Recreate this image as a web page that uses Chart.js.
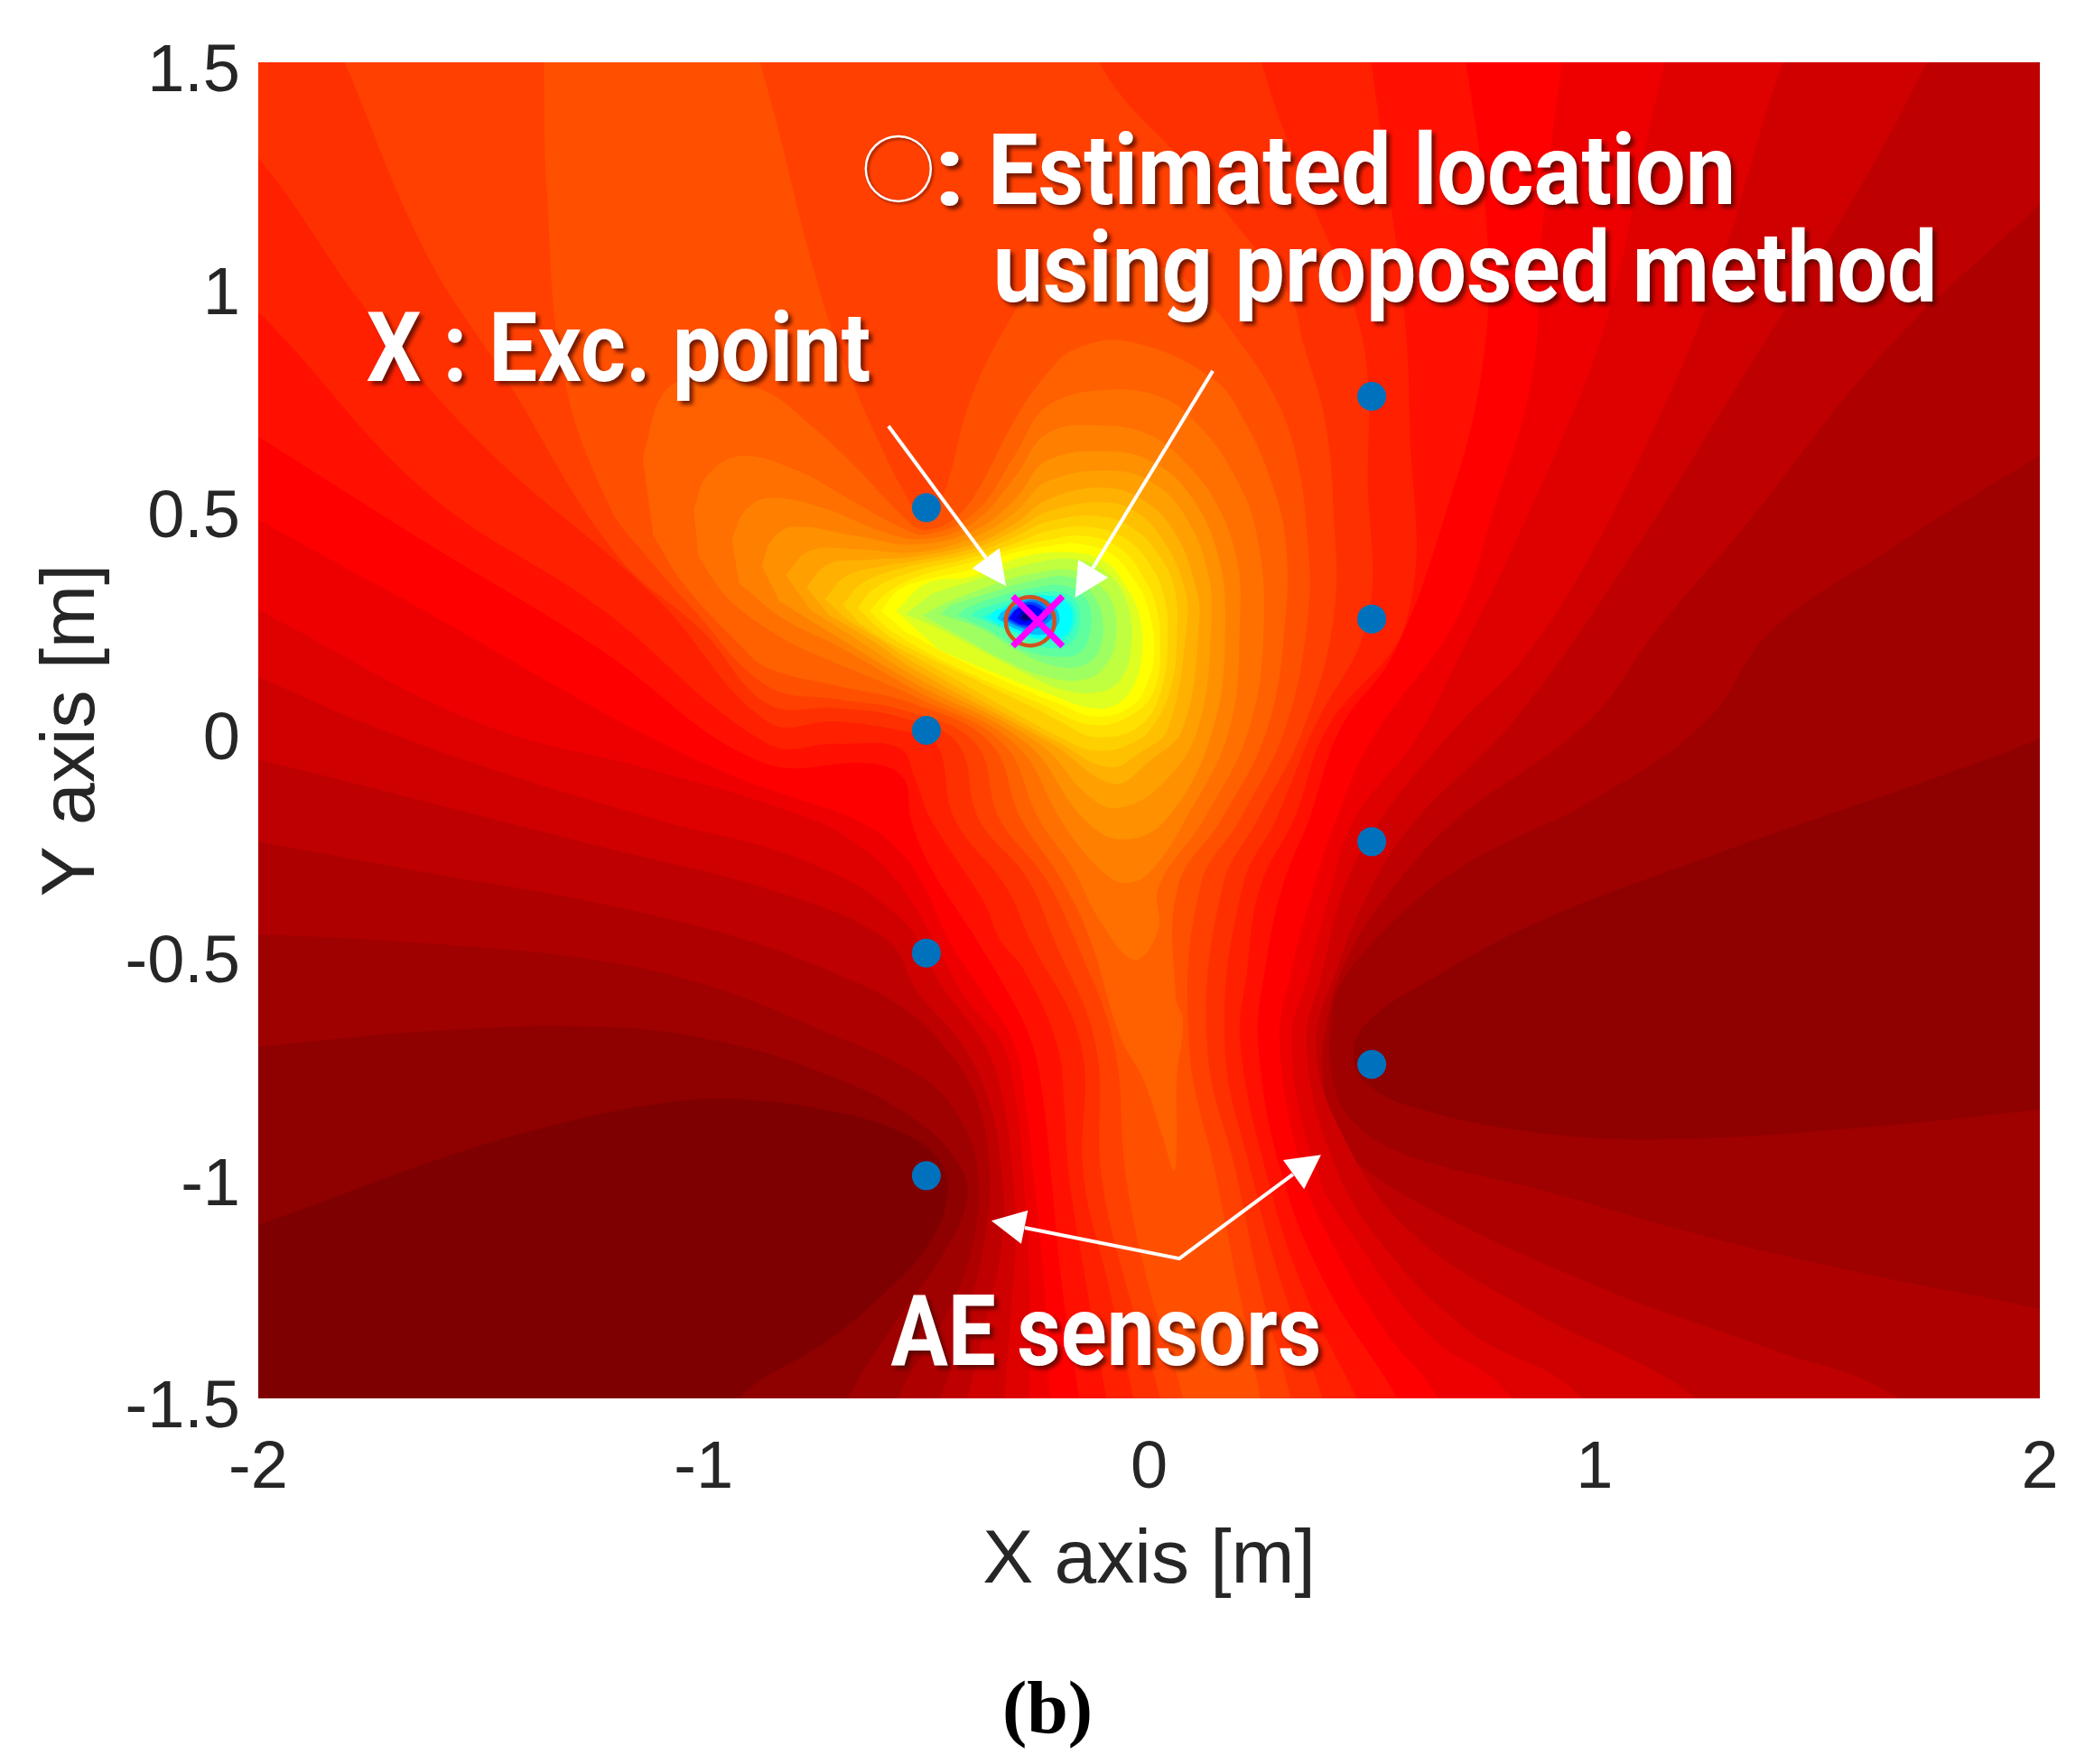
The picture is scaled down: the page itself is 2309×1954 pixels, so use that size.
<!DOCTYPE html>
<html><head><meta charset="utf-8">
<style>html,body{margin:0;padding:0;background:#fff}canvas{display:block}</style>
<script src="https://cdn.jsdelivr.net/npm/chart.js@4"></script>
</head><body><canvas id="c" width="2309" height="1954"></canvas>
<script>
const xTicks=[-2,-1,0,1,2];
const yTicks=[-1.5,-1,-0.5,0,0.5,1,1.5];
const sensorX=[-0.5,-0.5,-0.5,-0.5,0.5,0.5,0.5,0.5];
const sensorY=[0.5,0,-0.5,-1,0.75,0.25,-0.25,-0.75];
const excitationPoint=[[-0.25,0.245]];
const estimatedPoint=[[-0.267,0.245]];
const legendCircle=[[-0.563,1.261]];
const arrowLine1=[[-0.585,0.683],[-0.366,0.387]];
const arrowHead1=[[-0.321,0.324],[-0.397,0.364],[-0.336,0.409]];
const arrowLine2=[[0.143,0.807],[-0.127,0.363]];
const arrowHead2=[[-0.166,0.298],[-0.159,0.383],[-0.092,0.343]];
const arrowLine3=[[-0.279,-1.117],[0.068,-1.186],[0.323,-0.997]];
const arrowHead3=[[-0.354,-1.101],[-0.272,-1.078],[-0.287,-1.153]];
const arrowHead4=[[0.386,-0.953],[0.301,-0.965],[0.348,-1.03]];

const band00=[[-2.3,1.8],[2.3,1.8],[2.3,-1.8],[-2.3,-1.8]];
const band01=[[-2.3,1.8],[2.3,1.8],[2.3,-1.8],[-1.15,-1.8],[-0.92,-1.5],[-0.719,-1.369],[-0.59,-1.26],[-0.5,-1.161],[-0.454,-1.052],[-0.473,-0.963],[-0.564,-0.899],[-0.719,-0.854],[-0.913,-0.829],[-1.107,-0.839],[-1.366,-0.894],[-1.624,-0.973],[-2,-1.11],[-2.3,-1.2]];
const band02=[[-2.3,1.8],[2.3,1.8],[2.3,0.12],[2,-0.02],[1.268,-0.28],[0.879,-0.428],[0.621,-0.566],[0.491,-0.655],[0.459,-0.726],[0.491,-0.795],[0.621,-0.854],[0.879,-0.904],[1.138,-0.918],[1.527,-0.898],[2,-0.851],[2.3,-0.81],[2.3,-1.8],[-0.8,-1.8],[-0.676,-1.5],[-0.564,-1.32],[-0.46,-1.171],[-0.409,-1.052],[-0.428,-0.973],[-0.525,-0.874],[-0.719,-0.775],[-0.978,-0.696],[-1.236,-0.666],[-1.624,-0.676],[-2,-0.71],[-2.3,-0.73]];
const band03=[[-2.3,1.8],[2.3,1.8],[2.3,0.8],[2,0.618],[1.655,0.401],[1.398,0.225],[1.248,0.018],[1.008,-0.15],[0.699,-0.308],[0.53,-0.448],[0.427,-0.576],[0.41,-0.65],[0.41,-0.77],[0.45,-0.87],[0.57,-0.95],[0.879,-1.032],[1.268,-1.141],[1.655,-1.23],[2,-1.3],[2.3,-1.38],[2.3,-1.8],[-0.65,-1.8],[-0.563,-1.5],[-0.46,-1.32],[-0.4,-1.17],[-0.384,-1],[-0.42,-0.88],[-0.51,-0.78],[-0.719,-0.68],[-0.978,-0.577],[-1.236,-0.517],[-1.624,-0.478],[-2,-0.458],[-2.3,-0.45]];
const band04=[[-2.3,1.8],[2.3,1.8],[2.3,1.48],[2,1.182],[1.656,0.856],[1.333,0.453],[1.139,0.225],[0.984,0.018],[0.69,-0.2],[0.55,-0.35],[0.45,-0.5],[0.4,-0.65],[0.39,-0.78],[0.41,-0.9],[0.453,-0.96],[0.621,-1.07],[1.009,-1.25],[1.397,-1.39],[1.682,-1.5],[2,-1.8],[-0.6,-1.8],[-0.469,-1.5],[-0.4,-1.28],[-0.37,-1.15],[-0.357,-1],[-0.39,-0.82],[-0.464,-0.705],[-0.552,-0.623],[-0.654,-0.567],[-0.913,-0.468],[-1.236,-0.388],[-1.624,-0.319],[-2,-0.25],[-2.3,-0.2]];
const band05=[[-2.3,1.8],[1.9,1.8],[1.747,1.5],[1.59,1.208],[1.32,0.773],[1.074,0.38],[0.816,0.018],[0.6,-0.2],[0.5,-0.35],[0.42,-0.54],[0.375,-0.705],[0.43,-0.9],[0.58,-1.12],[0.85,-1.3],[1.229,-1.5],[1.5,-1.8],[-0.5,-1.8],[-0.408,-1.5],[-0.36,-1.3],[-0.33,-1.15],[-0.33,-1],[-0.36,-0.83],[-0.42,-0.705],[-0.518,-0.59],[-0.59,-0.47],[-0.848,-0.359],[-1.236,-0.26],[-1.624,-0.16],[-2,-0.066],[-2.3,0]];
const band06=[[-2.3,1.8],[1.55,1.8],[1.423,1.5],[1.268,1],[1.139,0.69],[0.984,0.38],[0.84,0.16],[0.7,0.018],[0.52,-0.2],[0.44,-0.35],[0.39,-0.54],[0.354,-0.705],[0.407,-0.95],[0.52,-1.15],[0.72,-1.35],[0.971,-1.5],[1.1,-1.8],[-0.35,-1.8],[-0.325,-1.5],[-0.31,-1.3],[-0.3,-1.15],[-0.306,-1],[-0.33,-0.82],[-0.37,-0.705],[-0.464,-0.576],[-0.56,-0.42],[-0.784,-0.289],[-1.107,-0.2],[-1.495,-0.081],[-1.766,0.018],[-2,0.12],[-2.3,0.25]];
const band07=[[-2.3,1.8],[1.25,1.8],[1.158,1.5],[1.048,1],[0.984,0.794],[0.803,0.38],[0.7,0.174],[0.6,-0.02],[0.46,-0.2],[0.41,-0.35],[0.36,-0.54],[0.32,-0.705],[0.38,-1],[0.47,-1.15],[0.62,-1.35],[0.815,-1.5],[0.95,-1.8],[-0.27,-1.8],[-0.269,-1.5],[-0.27,-1.2],[-0.282,-1],[-0.3,-0.82],[-0.329,-0.705],[-0.41,-0.603],[-0.55,-0.36],[-0.65,-0.26],[-0.784,-0.19],[-1.107,-0.091],[-1.508,0.018],[-2,0.27],[-2.3,0.42]];
const band08=[[-2.3,1.8],[0.97,1.8],[0.926,1.5],[0.88,1.1],[0.86,0.794],[0.77,0.484],[0.69,0.25],[0.5,-0.02],[0.42,-0.2],[0.37,-0.35],[0.32,-0.54],[0.293,-0.705],[0.346,-1],[0.41,-1.15],[0.53,-1.35],[0.647,-1.5],[0.75,-1.8],[-0.2,-1.8],[-0.222,-1.5],[-0.235,-1.25],[-0.259,-1],[-0.275,-0.85],[-0.302,-0.705],[-0.363,-0.603],[-0.451,-0.468],[-0.5,-0.36],[-0.56,-0.27],[-0.66,-0.2],[-0.8,-0.15],[-0.94,-0.1],[-1.184,0.018],[-1.624,0.267],[-2,0.474],[-2.3,0.65]];
const band09=[[-2.3,1.8],[0.65,1.8],[0.711,1.5],[0.76,1.1],[0.745,0.794],[0.665,0.484],[0.55,0.174],[0.43,0.005],[0.36,-0.198],[0.3,-0.35],[0.26,-0.54],[0.245,-0.705],[0.299,-1],[0.4,-1.25],[0.557,-1.5],[0.7,-1.8],[-0.12,-1.8],[-0.157,-1.5],[-0.195,-1.25],[-0.22,-1],[-0.235,-0.85],[-0.262,-0.705],[-0.316,-0.59],[-0.397,-0.455],[-0.484,-0.319],[-0.535,-0.2],[-0.55,-0.11],[-0.62,-0.075],[-0.874,-0.07],[-1.236,0.184],[-1.624,0.422],[-2,0.66],[-2.3,0.85]];
const band10=[[-2.3,1.8],[0.46,1.8],[0.499,1.5],[0.54,1.2],[0.57,0.97],[0.585,0.7],[0.579,0.25],[0.4,0.005],[0.326,-0.198],[0.25,-0.35],[0.22,-0.54],[0.205,-0.705],[0.265,-1],[0.345,-1.25],[0.466,-1.5],[0.6,-1.8],[-0.05,-1.8],[-0.096,-1.5],[-0.14,-1.25],[-0.18,-1],[-0.19,-0.85],[-0.207,-0.705],[-0.282,-0.536],[-0.336,-0.468],[-0.37,-0.387],[-0.491,-0.198],[-0.525,-0.11],[-0.56,-0.04],[-0.7,-0.03],[-0.857,-0.03],[-1.236,0.277],[-1.624,0.536],[-2,0.939],[-2.3,1.2]];
const band11=[[-2.3,1.8],[0.2,1.8],[0.253,1.5],[0.36,1.2],[0.454,0.971],[0.49,0.8],[0.491,0.566],[0.491,0.25],[0.37,0.005],[0.286,-0.198],[0.21,-0.35],[0.17,-0.705],[0.231,-1],[0.3,-1.25],[0.389,-1.5],[0.46,-1.8],[0.03,-1.8],[-0.035,-1.5],[-0.09,-1.25],[-0.147,-1],[-0.153,-0.705],[-0.268,-0.468],[-0.322,-0.35],[-0.437,-0.198],[-0.478,-0.029],[-0.56,0],[-0.7,0.02],[-0.857,0.02],[-1.107,0.298],[-1.495,0.639],[-1.753,0.939],[-2,1.285],[-2.3,1.6]];
const band12=[[-1.85,1.8],[-0.2,1.8],[-0.112,1.5],[0.092,1.26],[0.226,1.098],[0.319,0.971],[0.346,0.87],[0.394,0.701],[0.414,0.498],[0.414,0.25],[0.347,0.005],[0.245,-0.198],[0.165,-0.35],[0.13,-0.705],[0.197,-1],[0.25,-1.25],[0.318,-1.5],[0.38,-1.8],[0.08,-1.8],[0.025,-1.5],[-0.05,-1.25],[-0.107,-1],[-0.12,-0.705],[-0.214,-0.468],[-0.275,-0.33],[-0.383,-0.198],[-0.43,-0.029],[-0.56,0.03],[-0.7,0.05],[-0.857,0.06],[-1,0.22],[-1.2,0.4],[-1.45,0.8],[-1.624,1.073],[-1.806,1.5]];
const band13=[[-1.36,1.8],[-0.98,1.8],[-0.874,1.5],[-0.735,0.971],[-0.66,0.768],[-0.606,0.647],[-0.552,0.539],[-0.5,0.47],[-0.458,0.539],[-0.404,0.734],[-0.323,0.903],[-0.25,1],[-0.1,1.06],[0.05,1.03],[0.137,0.958],[0.19,0.89],[0.272,0.768],[0.326,0.633],[0.356,0.43],[0.356,0.25],[0.306,0.005],[0.205,-0.198],[0.115,-0.35],[0.09,-0.705],[0.15,-1],[0.2,-1.25],[0.25,-1.5],[0.3,-1.8],[0.12,-1.8],[0.076,-1.5],[0,-1.25],[-0.052,-1],[-0.079,-0.705],[-0.167,-0.468],[-0.234,-0.33],[-0.336,-0.198],[-0.39,-0.029],[-0.55,0.045],[-0.7,0.07],[-0.857,0.1],[-1.032,0.282],[-1.133,0.397],[-1.21,0.5],[-1.314,0.794],[-1.352,1.208],[-1.359,1.5]];
const band14=[[-1.137,0.613],[-1.086,0.762],[-0.998,0.79],[-0.863,0.762],[-0.762,0.687],[-0.66,0.593],[-0.573,0.5],[-0.525,0.457],[-0.5,0.45],[-0.444,0.47],[-0.39,0.53],[-0.3,0.7],[-0.228,0.802],[-0.167,0.856],[-0.046,0.873],[0.144,0.789],[0.218,0.687],[0.272,0.566],[0.306,0.43],[0.306,0.25],[0.266,0.005],[0.164,-0.198],[0.065,-0.35],[0.06,-0.6],[0.076,-0.651],[0.062,-0.786],[0.062,-0.921],[0.056,-0.989],[0.029,-0.908],[-0.012,-0.786],[-0.066,-0.685],[-0.133,-0.468],[-0.2,-0.33],[-0.288,-0.198],[-0.356,-0.029],[-0.53,0.06],[-0.7,0.1],[-0.857,0.14],[-0.917,0.19],[-1.046,0.33],[-1.113,0.437]];
const band15=[[-1.022,0.498],[-0.992,0.572],[-0.917,0.616],[-0.796,0.586],[-0.66,0.512],[-0.559,0.457],[-0.5,0.44],[-0.39,0.49],[-0.3,0.62],[-0.228,0.728],[-0.086,0.765],[0.035,0.745],[0.116,0.68],[0.184,0.586],[0.238,0.457],[0.258,0.248],[0.225,0.005],[0.124,-0.198],[0.022,-0.35],[0.02,-0.45],[-0.032,-0.515],[-0.106,-0.434],[-0.174,-0.306],[-0.248,-0.198],[-0.329,-0.029],[-0.525,0.075],[-0.7,0.15],[-0.823,0.207],[-0.944,0.295],[-1.012,0.39]];
const band16=[[-0.937,0.43],[-0.905,0.495],[-0.85,0.522],[-0.728,0.498],[-0.593,0.444],[-0.5,0.43],[-0.39,0.47],[-0.3,0.57],[-0.228,0.667],[-0.1,0.684],[0.008,0.66],[0.089,0.593],[0.157,0.498],[0.198,0.376],[0.204,0.248],[0.181,0.005],[0.083,-0.198],[0,-0.32],[-0.052,-0.343],[-0.093,-0.326],[-0.153,-0.265],[-0.2,-0.198],[-0.302,-0.029],[-0.525,0.09],[-0.7,0.19],[-0.82,0.25],[-0.92,0.33]];
const band17=[[-0.87,0.37],[-0.845,0.43],[-0.796,0.457],[-0.66,0.437],[-0.525,0.417],[-0.39,0.45],[-0.3,0.52],[-0.228,0.606],[-0.079,0.626],[0.015,0.599],[0.089,0.532],[0.15,0.41],[0.171,0.248],[0.144,0.005],[0.04,-0.198],[-0.059,-0.245],[-0.147,-0.198],[-0.275,-0.029],[-0.525,0.105],[-0.7,0.21],[-0.83,0.29]];
const band18=[[-0.816,0.349],[-0.762,0.403],[-0.66,0.407],[-0.525,0.4],[-0.39,0.435],[-0.3,0.49],[-0.228,0.559],[-0.079,0.583],[0.015,0.552],[0.083,0.478],[0.13,0.363],[0.14,0.248],[0.11,0.005],[0.03,-0.12],[-0.066,-0.174],[-0.133,-0.15],[-0.248,-0.029],[-0.525,0.12],[-0.65,0.2],[-0.76,0.27]];
const band19=[[-0.769,0.322],[-0.721,0.373],[-0.627,0.383],[-0.525,0.39],[-0.39,0.42],[-0.3,0.465],[-0.228,0.518],[-0.1,0.545],[-0.005,0.512],[0.062,0.437],[0.103,0.329],[0.113,0.248],[0.076,0.005],[0,-0.07],[-0.08,-0.12],[-0.22,-0.029],[-0.525,0.135],[-0.62,0.2],[-0.72,0.26]];
const band20=[[-0.728,0.295],[-0.681,0.346],[-0.593,0.37],[-0.525,0.38],[-0.39,0.41],[-0.3,0.45],[-0.228,0.491],[-0.1,0.512],[-0.019,0.484],[0.042,0.41],[0.079,0.322],[0.086,0.248],[0.043,0.005],[-0.02,-0.05],[-0.09,-0.083],[-0.2,-0.029],[-0.525,0.15],[-0.6,0.2],[-0.68,0.25]];
const band21=[[-0.687,0.282],[-0.647,0.329],[-0.559,0.363],[-0.39,0.4],[-0.3,0.435],[-0.228,0.468],[-0.113,0.481],[-0.032,0.451],[0.029,0.383],[0.059,0.309],[0.062,0.2],[0.05,0.1],[0.009,0.01],[-0.04,-0.03],[-0.11,-0.046],[-0.174,-0.029],[-0.525,0.165],[-0.59,0.2],[-0.65,0.24]];
const band22=[[-0.654,0.275],[-0.62,0.316],[-0.539,0.353],[-0.39,0.39],[-0.3,0.42],[-0.228,0.447],[-0.14,0.457],[-0.052,0.43],[0.008,0.363],[0.035,0.295],[0.042,0.22],[0.03,0.1],[-0.02,0.01],[-0.12,-0.015],[-0.2,0.02],[-0.255,0.049],[-0.525,0.178],[-0.575,0.205],[-0.62,0.24]];
const band23=[[-0.627,0.268],[-0.593,0.305],[-0.525,0.343],[-0.39,0.38],[-0.3,0.41],[-0.228,0.427],[-0.147,0.437],[-0.066,0.41],[-0.012,0.343],[0.015,0.282],[0.025,0.2],[0.015,0.1],[-0.03,0.04],[-0.125,0.012],[-0.248,0.062],[-0.43,0.14],[-0.525,0.19],[-0.59,0.23]];
const band24=[[-0.601,0.268],[-0.562,0.315],[-0.485,0.342],[-0.399,0.362],[-0.314,0.396],[-0.198,0.418],[-0.167,0.42],[-0.086,0.397],[-0.032,0.336],[-0.005,0.282],[0.012,0.187],[-0.004,0.106],[-0.042,0.052],[-0.12,0.031],[-0.198,0.058],[-0.314,0.106],[-0.43,0.16],[-0.547,0.221]];
const band26=[[-0.568,0.268],[-0.5,0.33],[-0.4,0.345],[-0.3,0.385],[-0.19,0.4],[-0.1,0.38],[-0.05,0.32],[-0.022,0.26],[-0.015,0.18],[-0.03,0.11],[-0.07,0.06],[-0.13,0.05],[-0.22,0.08],[-0.35,0.13],[-0.47,0.18]];
const band28=[[-0.547,0.261],[-0.469,0.227],[-0.392,0.187],[-0.275,0.126],[-0.198,0.092],[-0.12,0.085],[-0.066,0.112],[-0.04,0.187],[-0.05,0.288],[-0.097,0.356],[-0.174,0.385],[-0.275,0.372],[-0.376,0.342],[-0.485,0.308]];
const band30=[[-0.508,0.258],[-0.43,0.215],[-0.33,0.16],[-0.23,0.12],[-0.14,0.115],[-0.095,0.15],[-0.075,0.2],[-0.08,0.28],[-0.115,0.33],[-0.175,0.36],[-0.27,0.35],[-0.37,0.32],[-0.46,0.285]];
const band32=[[-0.469,0.261],[-0.376,0.227],[-0.298,0.18],[-0.213,0.145],[-0.15,0.145],[-0.112,0.18],[-0.105,0.254],[-0.13,0.31],[-0.182,0.345],[-0.267,0.335],[-0.36,0.308],[-0.446,0.281]];
const band34=[[-0.43,0.258],[-0.36,0.225],[-0.28,0.18],[-0.2,0.165],[-0.155,0.175],[-0.135,0.21],[-0.13,0.26],[-0.145,0.3],[-0.19,0.325],[-0.26,0.32],[-0.34,0.3],[-0.41,0.275]];
const band36=[[-0.399,0.258],[-0.329,0.227],[-0.26,0.194],[-0.2,0.185],[-0.165,0.21],[-0.155,0.254],[-0.165,0.29],[-0.2,0.31],[-0.26,0.308],[-0.329,0.288],[-0.384,0.271]];
const band38=[[-0.375,0.255],[-0.315,0.225],[-0.25,0.205],[-0.2,0.2],[-0.175,0.22],[-0.165,0.255],[-0.175,0.285],[-0.205,0.3],[-0.255,0.298],[-0.32,0.28]];
const band40=[[-0.36,0.254],[-0.298,0.221],[-0.236,0.205],[-0.19,0.213],[-0.172,0.254],[-0.19,0.29],[-0.244,0.303],[-0.298,0.288],[-0.345,0.268]];
const band44=[[-0.341,0.251],[-0.298,0.227],[-0.244,0.214],[-0.213,0.227],[-0.201,0.254],[-0.221,0.288],[-0.26,0.298],[-0.306,0.281],[-0.333,0.264]];
const band48=[[-0.329,0.251],[-0.291,0.231],[-0.26,0.227],[-0.229,0.241],[-0.217,0.258],[-0.236,0.285],[-0.271,0.292],[-0.306,0.275]];
const band52=[[-0.32,0.25],[-0.287,0.234],[-0.257,0.232],[-0.234,0.247],[-0.226,0.26],[-0.245,0.282],[-0.275,0.287],[-0.303,0.27]];
const band56=[[-0.314,0.251],[-0.283,0.237],[-0.252,0.241],[-0.236,0.258],[-0.252,0.278],[-0.279,0.281],[-0.302,0.268]];
const band60=[[-0.298,0.251],[-0.275,0.244],[-0.26,0.254],[-0.267,0.268],[-0.287,0.268]];
const band63=[[-0.285,0.251],[-0.271,0.248],[-0.267,0.254],[-0.275,0.261],[-0.285,0.258]];

const bandList=[band00,band01,band02,band03,band04,band05,band06,band07,band08,band09,band10,band11,band12,band13,band14,band15,band16,band17,band18,band19,band20,band21,band22,band23,band24,band26,band28,band30,band32,band34,band36,band38,band40,band44,band48,band52,band56,band60,band63];
const bandColors=['#7f0000','#8f0000','#9f0000','#af0000','#bf0000','#cf0000','#df0000','#ef0000','#ff0000','#ff1000','#ff2000','#ff3000','#ff4000','#ff5000','#ff6000','#ff7000','#ff8000','#ff9000','#ffa000','#ffb000','#ffc000','#ffd000','#ffe000','#fff000','#ffff00','#dfff20','#bfff40','#9fff60','#7fff80','#5fff9f','#3fffbf','#1fffdf','#00ffff','#00bfff','#007fff','#003fff','#0000ff','#0000bf','#00006a'];
const annotationTexts=['Estimated location','using proposed method','X : Exc. point','AE sensors',':'];
const panelLabel='(b)';

const toXY=a=>a.map(p=>({x:p[0],y:p[1]}));
const datasets=[];
bandList.forEach((b,i)=>datasets.push({data:toXY(b),showLine:true,fill:'shape',backgroundColor:bandColors[i],borderWidth:0,borderColor:'transparent',pointRadius:0,tension:0.4,order:1000-i}));
[arrowLine1,arrowLine2,arrowLine3].forEach(a=>datasets.push({data:toXY(a),showLine:true,fill:false,borderColor:'#fff',borderWidth:4,pointRadius:0,tension:0,order:5}));
[arrowHead1,arrowHead2,arrowHead3,arrowHead4].forEach(a=>datasets.push({data:toXY(a),showLine:true,fill:'shape',backgroundColor:'#fff',borderWidth:0,pointRadius:0,tension:0,order:4}));
datasets.push({data:sensorX.map((x,i)=>({x,y:sensorY[i]})),pointRadius:16,pointBackgroundColor:'#0072bd',pointBorderWidth:0,showLine:false,order:3});
datasets.push({data:toXY(estimatedPoint),pointRadius:27,pointStyle:'circle',pointBackgroundColor:'transparent',pointBorderColor:'#d2521e',pointBorderWidth:4.5,showLine:false,order:2});
datasets.push({data:toXY(excitationPoint),pointRadius:39,pointStyle:'crossRot',pointBorderColor:'#ff00ff',pointBorderWidth:7,showLine:false,order:1});

const textPlugin={id:'texts',afterDatasetsDraw(chart){
  const c=chart.ctx,X=chart.scales.x,Y=chart.scales.y;
  const put=(t,x0,x1,y,size)=>{
    const l=X.getPixelForValue(x0),r=X.getPixelForValue(x1),b=Y.getPixelForValue(y);
    c.save();
    c.font='bold '+size+'px Roboto';
    c.textAlign='left';c.textBaseline='alphabetic';
    const w=c.measureText(t).width;
    c.shadowColor='rgba(70,10,0,0.75)';c.shadowBlur=4;
    c.shadowOffsetX=4;c.shadowOffsetY=4;
    c.translate(l,b);c.scale((r-l)/w,1);
    c.fillStyle='#fff';c.fillText(t,0,0);
    c.restore();
  };
  put(annotationTexts[0],-0.362,1.317,1.182,110);
  put(annotationTexts[1],-0.35,1.77,0.962,110);
  put(annotationTexts[2],-1.757,-0.625,0.784,107);
  put(annotationTexts[3],-0.58,0.387,-1.425,110);
  put(annotationTexts[4],-0.483,-0.412,1.179,110);
  c.save();
  c.strokeStyle='#fff';c.lineWidth=2.5;c.shadowColor='rgba(70,10,0,0.6)';c.shadowBlur=3;c.shadowOffsetX=2;c.shadowOffsetY=2;
  c.beginPath();c.ellipse(X.getPixelForValue(legendCircle[0][0]),Y.getPixelForValue(legendCircle[0][1]),36,36,0,0,Math.PI*2);c.stroke();
  c.restore();
  c.save();
  c.font='bold 82px "Liberation Serif"';c.textAlign='center';c.textBaseline='alphabetic';c.fillStyle='#000';
  c.fillText(panelLabel,X.getPixelForValue(-0.228),Y.getPixelForValue(-2.25));
  c.restore();
}};

new Chart(document.getElementById('c').getContext('2d'),{
  type:'scatter',
  data:{datasets},
  plugins:[textPlugin],
  options:{
    responsive:false,animation:false,devicePixelRatio:1,
    events:[],
    layout:{padding:{top:69,right:50,left:0,bottom:0}},
    plugins:{legend:{display:false},tooltip:{enabled:false},title:{display:false}},
    scales:{
      x:{type:'linear',min:-2,max:2,
        afterBuildTicks:s=>{s.ticks=xTicks.map(v=>({value:v}));},
        afterFit:s=>{s.height=405;},
        grid:{display:false},border:{display:false},
        ticks:{color:'#262626',font:{family:'"Liberation Sans"',size:74},padding:26,maxRotation:0,autoSkip:false,callback:v=>String(v)},
        title:{display:true,text:'X axis [m]',color:'#262626',font:{family:'"Liberation Sans"',size:84},padding:{top:0,bottom:174}}},
      y:{type:'linear',min:-1.5,max:1.5,
        afterBuildTicks:s=>{s.ticks=yTicks.map(v=>({value:v}));},
        afterFit:s=>{s.width=286;},
        grid:{display:false},border:{display:false},
        ticks:{color:'#262626',font:{family:'"Liberation Sans"',size:74},padding:12,labelOffset:12,autoSkip:false,callback:v=>String(v)},
        title:{display:true,text:'Y axis [m]',color:'#262626',font:{family:'"Liberation Sans"',size:84},padding:{top:30,bottom:0}}}
    }
  }
});
</script></body></html>
